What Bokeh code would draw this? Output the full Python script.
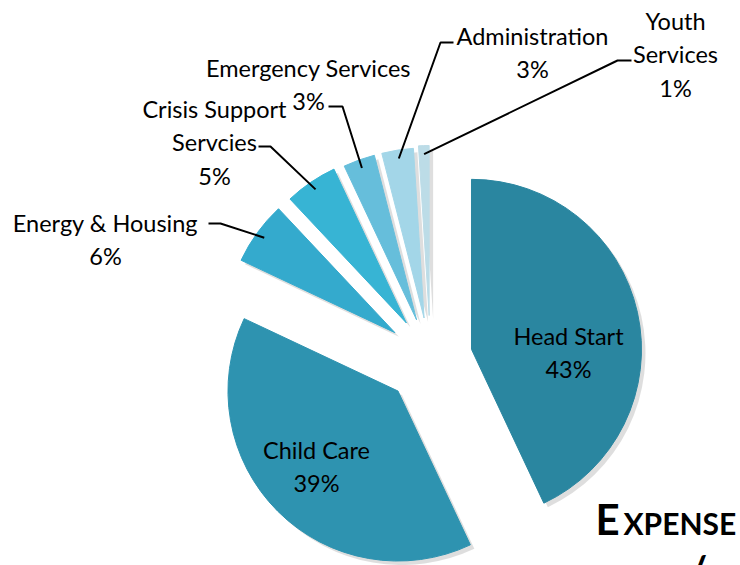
import math
from bokeh.plotting import figure
from bokeh.models import Range1d
from bokeh.core.properties import value
from bokeh.embed import file_html
from bokeh.resources import INLINE

# ---- data ----
categories = ["Head Start", "Child Care", "Energy & Housing", "Crisis Support Servcies",
              "Emergency Services", "Administration", "Youth Services"]
values = [43, 39, 6, 5, 3, 3, 1]
label_lines = [["Head Start"], ["Child Care"], ["Energy & Housing"], ["Crisis Support", "Servcies"],
               ["Emergency Services"], ["Administration"], ["Youth", "Services"]]
title_big = "E"
title_small = "XPENSE"
title_next = "/"

# ---- style / layout ----
colors = ["#2a86a0", "#2e93b0", "#34aacd", "#37b4d4", "#66bedb", "#a3d6e8", "#bcdce7"]
explode = [42, 46, 44, 43, 41, 41, 43]
CX, CY = 430, 358          # screen coords of pie centre
R = 170
FONT = "Lato"
FS = "23.5px"
GAP = 33.5
label_pos = [(568, 335), (316, 449), (105, 222), (214, 108), (308, 67), (532, 35), (675, 20)]
leader_elbow = [None, None, (220, 223), (270, 146), (342, 106), (440, 42), (617, 60)]
leader_end = [None, None, (208, 223), (258, 146), (328, 106), (453, 42), (631, 60)]

W, H = 740, 565


def Y(sy):
    return H - sy


p = figure(width=W, height=H, x_range=Range1d(0, W), y_range=Range1d(0, H),
           output_backend="svg", toolbar_location=None, x_axis_type=None, y_axis_type=None,
           min_border=0)
p.grid.visible = False
p.outline_line_color = None
p.background_fill_color = "white"
p.border_fill_color = "white"

total = float(sum(values))
cum = 0.0
apex = []
mids = []
for i, v in enumerate(values):
    t1 = cum / total * 2 * math.pi
    cum += v
    t2 = cum / total * 2 * math.pi
    tm = (t1 + t2) / 2
    mids.append(tm)
    ax = CX + explode[i] * math.sin(tm)
    ay = CY - explode[i] * math.cos(tm)
    apex.append((ax, ay))
    sa = math.pi / 2 - t2
    ea = math.pi / 2 - t1
    # shadow
    p.wedge(x=ax + 4, y=Y(ay + 4), radius=R, start_angle=sa, end_angle=ea,
            fill_color="#000000", fill_alpha=0.13, line_color=None)
    p.wedge(x=ax, y=Y(ay), radius=R, start_angle=sa, end_angle=ea,
            fill_color=colors[i], line_color=colors[i], line_width=1)

# labels
for i, v in enumerate(values):
    lines = label_lines[i] + [f"{v}%"]
    lx, ly = label_pos[i]
    xs = [lx] * len(lines)
    ys = [Y(ly + k * GAP) for k in range(len(lines))]
    p.text(x=xs, y=ys, text=lines, text_font=value(FONT), text_font_size=FS,
           text_align="center", text_baseline="middle", text_color="#000000")

# leader lines
for i in range(len(values)):
    if leader_elbow[i] is None:
        continue
    ax, ay = apex[i]
    tm = mids[i]
    sx = ax + 0.95 * R * math.sin(tm)
    sy = ay - 0.95 * R * math.cos(tm)
    ex, ey = leader_elbow[i]
    hx, hy = leader_end[i]
    p.line(x=[hx, ex, sx], y=[Y(hy), Y(ey), Y(sy)], line_color="#000000", line_width=2)

# title fragment
p.text(x=[595], y=[Y(518)], text=[title_big], text_font=value(FONT), text_font_size="42px",
       text_font_style="bold", text_align="left", text_baseline="middle", text_color="#000000")
p.text(x=[623], y=[Y(522)], text=[title_small], text_font=value(FONT), text_font_size="30px",
       text_font_style="bold", text_align="left", text_baseline="middle", text_color="#000000")
p.text(x=[688], y=[Y(569)], text=[title_next], text_font=value(FONT), text_font_size="40px",
       text_font_style="bold", text_align="left", text_baseline="middle", text_color="#000000")

open("out.html", "w").write(file_html(p, INLINE))
